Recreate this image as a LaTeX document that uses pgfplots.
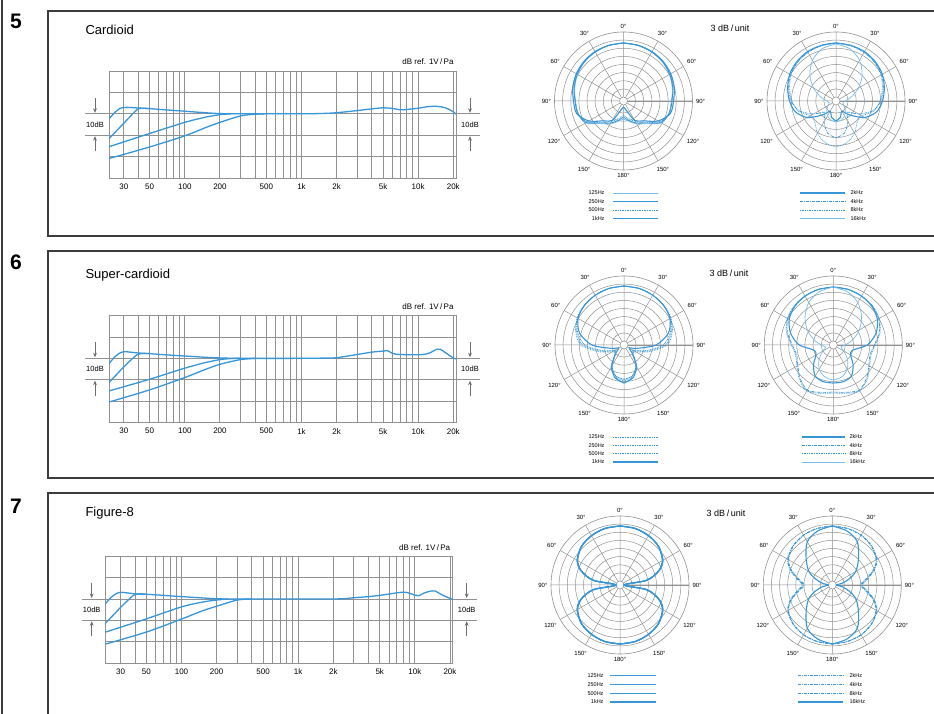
\documentclass[border=0pt]{standalone}
\usepackage{fontspec}
\setmainfont{Liberation Sans}
\usepackage{pgfplots}
\usepackage{pgfplotstable}
\pgfplotsset{compat=1.18}
\usepgfplotslibrary{polar}
\usetikzlibrary{arrows.meta}

\definecolor{gridgray}{RGB}{145,145,145}
\definecolor{cblue}{RGB}{55,150,215}
\definecolor{lblue}{RGB}{120,188,235}
\definecolor{framegray}{RGB}{60,60,60}
\definecolor{arrowgray}{RGB}{110,110,110}

\tikzset{
  fc/.style={cblue, line width=1.3pt, smooth},
  cthick/.style={cblue, line width=1.1pt},
  cmed/.style={cblue, line width=0.8pt},
  cthin/.style={lblue, line width=0.7pt},
  cdot/.style={cblue, line width=0.7pt, dash pattern=on 0.8pt off 0.9pt},
  cdd/.style={cblue, line width=0.7pt, dash pattern=on 3pt off 1pt on 0.8pt off 1pt},
}

\pgfplotsset{
  fqstyle/.style={
    anchor=south west, scale only axis, width=347pt, height=107pt,
    xmin=22.4, xmax=21100, ymin=-30, ymax=20,
    xtick={30,50,100,200,500,1000,2000,5000,10000,20000},
    xticklabels={30,50,100,200,500,1k,2k,5k,10k,20k},
    minor xtick={40,60,70,80,90,300,400,600,700,800,900,3000,4000,6000,7000,8000,9000},
    ytick={-20,-10,0,10}, yticklabels={},
    grid=both,
    major grid style={draw=gridgray, line width=0.9pt},
    minor grid style={draw=gridgray, line width=0.9pt},
    axis line style={draw=gridgray, line width=0.9pt},
    major tick length=0pt, minor tick length=0pt,
    xticklabel style={font=\fontsize{8}{8}\selectfont, yshift=-2.5pt},
  },
  plstyle/.style={
    anchor=origin, scale only axis, width=138pt, height=138pt,
    ymin=0, ymax=69,
    ytick={12.125,20.25,28.375,36.5,44.625,52.75,60.875}, yticklabels={},
    xtick={0,30,...,330},
    xticklabels={90°,60°,30°,0°,30°,60°,90°,120°,150°,180°,150°,120°},
    grid=major, major grid style={draw=gridgray, line width=0.5pt},
    axis line style={draw=gridgray, line width=0.6pt},
    major tick length=0pt,
    xticklabel style={font=\fontsize{6}{6}\selectfont},
  },
}

\newcommand\half[3]{%
  \addplot[#1, smooth] table[x expr=90+\thisrow{t}, y=#2]{#3};
  \addplot[#1, smooth] table[x expr=90-\thisrow{t}, y=#2]{#3};
}
\newcommand\hub{%
  \fill[white] (axis cs:0,0) circle[radius=4pt];
  \draw[gridgray, line width=0.5pt] (axis cs:0,0) circle[radius=4pt];
}
% L, R, y0, y10, top
\newcommand\deco[5]{%
  \draw[gridgray, line width=0.9pt] ({#1-24},#3) -- ({#2+24},#3);
  \draw[gridgray, line width=0.9pt] ({#1-24},#4) -- ({#2+24},#4);
  \foreach \xx in {{#1-14},{#2+14}}{
    \draw[arrowgray, line width=0.9pt, -{Stealth[length=4.5pt,width=3.8pt]}] (\xx,{#3+16}) -- (\xx,{#3+1});
    \draw[arrowgray, line width=0.9pt, -{Stealth[length=4.5pt,width=3.8pt]}] (\xx,{#4-16}) -- (\xx,{#4-1});
    \node[font=\fontsize{7.5}{7.5}\selectfont] at (\xx,{(#3+#4)/2}) {10dB};
  }
  \node[anchor=east, font=\fontsize{8}{8}\selectfont] at ({#2+1},{#5+9}) {dB ref. 1V\,/\,Pa};
}

\pgfplotstableread{
t a b c d
0 58 58 58 58
15 57.5 57.5 57.5 57.5
30 56.5 56.5 57 57
45 55 55.5 55.5 56
60 53 53.5 54 54.5
75 50.5 51 51.5 52.5
90 48 48.5 48 50
105 47 47.5 47 48.5
120 44 43 42 40
135 32 31 30 28
150 26.5 25.5 24 22.5
165 21 20 18 9
180 18 16 14 6
}\PoneL
\pgfplotstableread{
t a b c d
0 58 58 58 57
15 57.5 57.5 57 54
30 57 56.5 56 47
45 55.5 55 54.5 37
60 53.5 52.5 52 26
75 50 49 48 16
90 46.5 45 44 9
105 42 38 39 7
120 33 26 30 9
135 20 16 30 13
150 12 24 37 17
165 17 33 43 20
180 20 37 46 21
}\PoneR
\pgfplotstableread{
t a b c d
0 59 59 59 59
15 58.5 58.5 58.5 58.5
30 57.5 57.5 57.5 57.5
45 56 56 56 56
60 54 54 53.5 53
75 50 49 48 46
90 43 41 39 32
105 26 24 22 13
120 14 12 10 6
135 12 12 12 12
150 24 24 24 25
165 32 32 33 34
180 34 35 36 38
}\PtwoL
\pgfplotstableread{
t a b c d
0 58 58 58 58
15 57.5 57.5 57.5 55
30 56.5 56.5 56.5 49
45 54.5 55 55.5 40
60 51 52.5 53 30
75 44 47.5 48.5 20
90 34 41 42 12
105 20 38 39 8
120 20 41 42 12
135 28 47 48 20
150 36 52 53 28
165 38 49 50 33
180 38 47 48 35
}\PtwoR
\pgfplotstableread{
t a b c d
0 59 59 59 59
15 58.5 58.5 58.5 58.5
30 57 57 57 57
45 54.5 54.5 54.5 54.5
60 49 49.5 49 49.5
70 41 41.5 41 41.5
80 27 27.5 27 27.5
90 4 4 4 4
100 27 27.5 27 27.5
110 41 41.5 41 41.5
120 49 49.5 49 49.5
135 54.5 54.5 54.5 54.5
150 57 57 57 57
165 58.5 58.5 58.5 58.5
180 59 59 59 59
}\PthreeL
\pgfplotstableread{
t a b c d
0 59 59 59 59
15 58.5 58.5 58.5 56
30 57.5 57.5 57.5 50
45 55.5 55.5 55 37
60 51 51.5 50.5 27
70 44 45 43.5 18
80 35 36 34 10
90 29 30 28 4
100 35 36 34 10
110 44 45 43.5 18
120 51 51.5 50.5 27
135 55.5 55.5 55 37
150 57.5 57.5 57.5 50
165 58.5 58.5 58.5 56
180 59 59 59 59
}\PthreeR

\begin{document}
\begin{tikzpicture}[x=1pt, y=1pt]
\useasboundingbox (0,0) rectangle (934,714);
\fill[white] (0,0) rectangle (934,714);
% frames
\draw[framegray, line width=1.2pt] (2,-5) -- (2,720);
\draw[framegray, line width=1.2pt] (940,703) -- (48,703) -- (48,478) -- (940,478);
\draw[framegray, line width=1.2pt] (940,463) -- (48,463) -- (48,236) -- (940,236);
\draw[framegray, line width=1.2pt] (940,221) -- (48,221) -- (48,-5);
\node[font=\fontsize{21}{21}\selectfont\bfseries] at (16,693) {5};
\node[font=\fontsize{21}{21}\selectfont\bfseries] at (16,452) {6};
\node[font=\fontsize{21}{21}\selectfont\bfseries] at (16,208) {7};
\node[anchor=west, font=\fontsize{13}{13}\selectfont] at (82,684) {Cardioid};
\node[anchor=west, font=\fontsize{13}{13}\selectfont] at (82,439) {Super-cardioid};
\node[anchor=west, font=\fontsize{13}{13}\selectfont] at (82,201) {Figure-8};
\node[font=\fontsize{9}{9}\selectfont] at (730,686) {3 dB\,/\,unit};
\node[font=\fontsize{9}{9}\selectfont] at (729,441) {3 dB\,/\,unit};
\node[font=\fontsize{9}{9}\selectfont] at (726,201) {3 dB\,/\,unit};

% ---------- Panel 5: Cardioid ----------
\deco{109}{456}{600.2}{578.8}{643}
\begin{semilogxaxis}[fqstyle, at={(109pt,536pt)}]
\addplot[fc] coordinates {(22.4,-2.4) (25,0.5) (28,2.6) (32,3.0) (40,2.7) (50,2.4) (70,1.8) (100,1.2) (150,0.5) (200,0.1) (300,0) (1000,0) (1500,0.15) (2000,0.5) (3000,1.5) (4000,2.3) (5000,2.8) (6000,2.5) (7000,1.9) (8000,2.0) (10000,2.6) (12000,3.3) (14000,3.5) (16000,3.2) (18000,2.3) (20000,0.9) (21100,-0.2)};
\addplot[fc] coordinates {(22.4,-11.6) (30,-4.4) (37,0.8) (40,2.3) (44,2.6) (50,2.4)};
\addplot[fc] coordinates {(22.4,-15.4) (50,-9.2) (100,-4.0) (150,-1.6) (200,-0.4) (250,0)};
\addplot[fc] coordinates {(22.4,-20.9) (50,-15.5) (100,-10.3) (150,-6.5) (200,-4.0) (300,-1.0) (400,-0.2) (500,0)};
\end{semilogxaxis}
\begin{polaraxis}[plstyle, at={(623.5pt,613pt)}]
\hub
\half{cthin}{a}{\PoneL}
\half{cmed}{b}{\PoneL}
\half{cdot}{c}{\PoneL}
\half{cthick}{d}{\PoneL}
\end{polaraxis}
\begin{polaraxis}[plstyle, at={(836pt,613pt)}]
\hub
\half{cthick}{a}{\PoneR}
\half{cdd}{b}{\PoneR}
\half{cdot}{c}{\PoneR}
\half{cthin}{d}{\PoneR}
\end{polaraxis}
\begin{scope}[font=\fontsize{5.5}{5.5}\selectfont]
\node[anchor=east] at (608,521) {125Hz}; \draw[cthin] (613,521) -- (658,521);
\node[anchor=east] at (608,512.5) {250Hz}; \draw[cmed] (613,512.5) -- (658,512.5);
\node[anchor=east] at (608,504) {500Hz}; \draw[cdot] (613,504) -- (658,504);
\node[anchor=east] at (608,495.5) {1kHz}; \draw[cthick] (613,495.5) -- (658,495.5);
\draw[cthick] (800,521) -- (845,521); \node[anchor=west] at (847,521) {2kHz};
\draw[cdd] (800,512.5) -- (845,512.5); \node[anchor=west] at (847,512.5) {4kHz};
\draw[cdot] (800,504) -- (845,504); \node[anchor=west] at (847,504) {8kHz};
\draw[cthin] (800,495.5) -- (845,495.5); \node[anchor=west] at (847,495.5) {16kHz};
\end{scope}

% ---------- Panel 6: Super-cardioid ----------
\deco{109}{456}{355.7}{334.3}{398.3}
\begin{semilogxaxis}[fqstyle, at={(109pt,291.7pt)}, height=106.6pt]
\addplot[fc] coordinates {(22.4,-2.5) (25,0.6) (28,2.6) (31,3.1) (40,2.5) (50,2.2) (70,1.6) (100,1.1) (150,0.5) (200,0.2) (300,0) (1000,0) (1500,0.1) (2000,0.3) (3000,1.8) (4000,2.9) (5000,3.4) (5500,3.5) (6100,2.2) (7000,1.8) (9000,1.7) (11000,1.8) (12500,2.5) (14500,4.3) (15500,4.2) (17000,2.8) (20000,0.2) (21100,-0.2)};
\addplot[fc] coordinates {(22.4,-11.4) (30,-4.0) (37,0.7) (40,2.0) (45,2.3) (50,2.2)};
\addplot[fc] coordinates {(22.4,-15.3) (50,-9.8) (100,-4.6) (150,-2.0) (200,-0.6) (250,-0.1) (300,0)};
\addplot[fc] coordinates {(22.4,-20.5) (50,-14.8) (100,-9.0) (150,-5.2) (200,-2.8) (300,-0.6) (400,0)};
\end{semilogxaxis}
\begin{polaraxis}[plstyle, at={(624pt,369pt)}]
\hub
\half{cdot}{a}{\PtwoL}
\half{cdot}{b}{\PtwoL}
\half{cdot}{c}{\PtwoL}
\half{cthick}{d}{\PtwoL}
\end{polaraxis}
\begin{polaraxis}[plstyle, at={(833.3pt,369pt)}]
\hub
\half{cthick}{a}{\PtwoR}
\half{cdd}{b}{\PtwoR}
\half{cdot}{c}{\PtwoR}
\half{cthin}{d}{\PtwoR}
\end{polaraxis}
\begin{scope}[font=\fontsize{5.5}{5.5}\selectfont]
\node[anchor=east] at (608,277) {125Hz}; \draw[cdot] (613,277) -- (658,277);
\node[anchor=east] at (608,268.7) {250Hz}; \draw[cdot] (613,268.7) -- (658,268.7);
\node[anchor=east] at (608,260.3) {500Hz}; \draw[cdot] (613,260.3) -- (658,260.3);
\node[anchor=east] at (608,252) {1kHz}; \draw[cthick] (613,252) -- (658,252);
\draw[cthick] (802,277) -- (845,277); \node[anchor=west] at (846,277) {2kHz};
\draw[cdd] (802,268.7) -- (845,268.7); \node[anchor=west] at (846,268.7) {4kHz};
\draw[cdot] (802,260.3) -- (845,260.3); \node[anchor=west] at (846,260.3) {8kHz};
\draw[cthin] (802,252) -- (845,252); \node[anchor=west] at (846,252) {16kHz};
\end{scope}

% ---------- Panel 7: Figure-8 ----------
\deco{105.7}{452.7}{115}{93.7}{157.7}
\begin{semilogxaxis}[fqstyle, at={(105.7pt,51pt)}, height=106.7pt]
\addplot[fc] coordinates {(22.4,-2.1) (25,0.8) (28,2.7) (31,3.1) (40,2.4) (50,2.2) (70,1.7) (100,1.1) (150,0.5) (200,0.1) (300,0) (2000,0) (3000,0.6) (4000,1.1) (5000,1.7) (6500,2.6) (8000,3.2) (9000,2.7) (10000,1.8) (10800,1.5) (12000,2.8) (14000,3.8) (15000,3.7) (17000,2.0) (20000,0.3) (21100,-0.2)};
\addplot[fc] coordinates {(22.4,-11.3) (30,-4.0) (37,0.8) (40,2.1) (45,2.4) (50,2.2)};
\addplot[fc] coordinates {(22.4,-15.5) (50,-9.3) (100,-3.7) (150,-1.5) (200,-0.5) (250,0)};
\addplot[fc] coordinates {(22.4,-21.1) (50,-15.5) (100,-9.4) (150,-5.6) (200,-3.4) (300,-0.5) (400,0)};
\end{semilogxaxis}
\begin{polaraxis}[plstyle, at={(620pt,129pt)}]
\hub
\half{cthick}{a}{\PthreeL}
\half{cthick}{b}{\PthreeL}
\half{cthick}{c}{\PthreeL}
\half{cthick}{d}{\PthreeL}
\end{polaraxis}
\begin{polaraxis}[plstyle, at={(832.3pt,129pt)}]
\hub
\half{cdd}{a}{\PthreeR}
\half{cdd}{b}{\PthreeR}
\half{cdd}{c}{\PthreeR}
\half{cthick}{d}{\PthreeR}
\end{polaraxis}
\begin{scope}[font=\fontsize{5.5}{5.5}\selectfont]
\node[anchor=east] at (607,38.3) {125Hz}; \draw[cthick] (610,38.3) -- (656,38.3);
\node[anchor=east] at (607,29.7) {250Hz}; \draw[cthick] (610,29.7) -- (656,29.7);
\node[anchor=east] at (607,20.7) {500Hz}; \draw[cthick] (610,20.7) -- (656,20.7);
\node[anchor=east] at (607,12) {1kHz}; \draw[cthick] (610,12) -- (656,12);
\draw[cdd] (798,38.3) -- (843,38.3); \node[anchor=west] at (846,38.3) {2kHz};
\draw[cdd] (798,29.7) -- (843,29.7); \node[anchor=west] at (846,29.7) {4kHz};
\draw[cdd] (798,20.7) -- (843,20.7); \node[anchor=west] at (846,20.7) {8kHz};
\draw[cthick] (798,12) -- (843,12); \node[anchor=west] at (846,12) {16kHz};
\end{scope}
\end{tikzpicture}
\end{document}
